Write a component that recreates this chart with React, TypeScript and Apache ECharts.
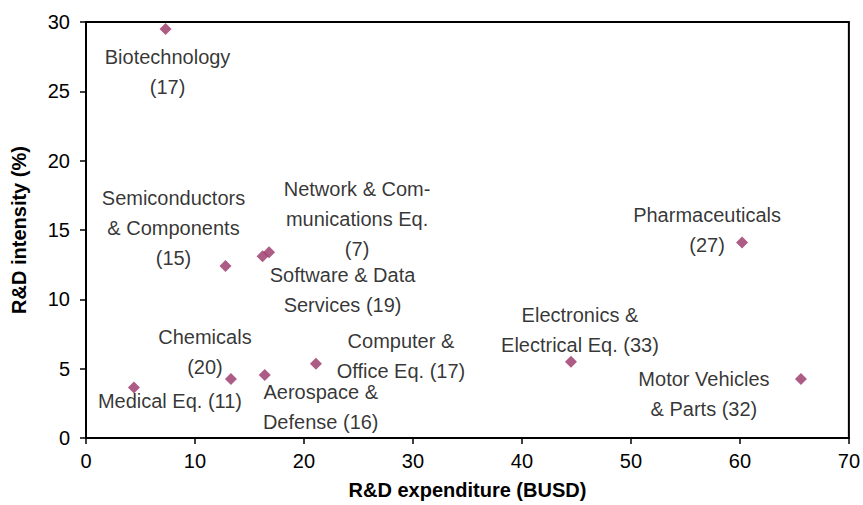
import React, { useEffect, useRef } from 'react';
import * as echarts from 'echarts';

const labelTexts = [
  'Biotechnology\n(17)',
  'Semiconductors\n& Components\n(15)',
  'Network & Com-\nmunications Eq.\n(7)',
  'Software & Data\nServices (19)',
  'Pharmaceuticals\n(27)',
  'Electronics &\nElectrical Eq. (33)',
  'Motor Vehicles\n& Parts (32)',
  'Chemicals\n(20)',
  'Medical Eq. (11)',
  'Aerospace &\nDefense (16)',
  'Computer &\nOffice Eq. (17)',
];
const expenditure = [7.3, 12.8, 16.8, 16.2, 60.2, 44.5, 65.6, 13.3, 4.4, 16.4, 21.1];
const intensity = [29.5, 12.4, 13.4, 13.1, 14.1, 5.5, 4.25, 4.25, 3.65, 4.55, 5.35];

// label placement (pixel offsets from each marker)
const labelOffsets: [number, number][] = [
  [2, 43],
  [-52, -38],
  [88, -33],
  [80, 34],
  [-35, -12],
  [9, -32],
  [-97, 15],
  [-26, -27],
  [36, 14],
  [56, 32],
  [85, -8],
];

const FONT = '"Liberation Sans", Arial, sans-serif';

export default function App() {
  const ref = useRef<HTMLDivElement>(null);
  useEffect(() => {
    if (!ref.current) return;
    const chart = echarts.init(ref.current, undefined, { renderer: 'svg' });
    const data = expenditure.map((x, i) => ({
      value: [x, intensity[i]],
      label: {
        show: true,
        formatter: labelTexts[i],
        position: 'inside',
        offset: labelOffsets[i],
        align: 'center',
        verticalAlign: 'middle',
        color: '#000',
        fontSize: 20,
        lineHeight: 30,
        fontFamily: FONT,
      },
    }));
    chart.setOption({
      animation: false,
      backgroundColor: '#fff',
      grid: {
        left: 86,
        right: 11,
        top: 22,
        bottom: 62,
        show: true,
        borderColor: '#000',
        borderWidth: 2,
        backgroundColor: 'transparent',
      },
      xAxis: {
        type: 'value',
        min: 0,
        max: 70,
        interval: 10,
        name: 'R&D expenditure (BUSD)',
        nameLocation: 'middle',
        nameGap: 42,
        nameTextStyle: { fontSize: 20, fontWeight: 'bold', color: '#000', fontFamily: FONT },
        axisLine: { show: true, lineStyle: { color: '#000', width: 2 } },
        axisTick: { show: true, length: 6, lineStyle: { color: '#000', width: 1.5 } },
        axisLabel: { fontSize: 20, color: '#000', margin: 13, fontFamily: FONT },
        splitLine: { show: false },
      },
      yAxis: {
        type: 'value',
        min: 0,
        max: 30,
        interval: 5,
        name: 'R&D intensity (%)',
        nameLocation: 'middle',
        nameGap: 57,
        nameTextStyle: { fontSize: 20, fontWeight: 'bold', color: '#000', fontFamily: FONT },
        axisLine: { show: true, lineStyle: { color: '#000', width: 2 } },
        axisTick: { show: true, length: 6, lineStyle: { color: '#000', width: 1.5 } },
        axisLabel: { fontSize: 20, color: '#000', margin: 16, fontFamily: FONT },
        splitLine: { show: false },
      },
      series: [
        {
          type: 'scatter',
          symbol: 'diamond',
          symbolSize: 12,
          itemStyle: { color: '#993366' },
          data,
        },
      ],
    });
    return () => chart.dispose();
  }, []);
  return (
    <div
      ref={ref}
      style={{ position: 'fixed', left: 0, top: 0, width: 863, height: 505, background: '#fff' }}
    />
  );
}
